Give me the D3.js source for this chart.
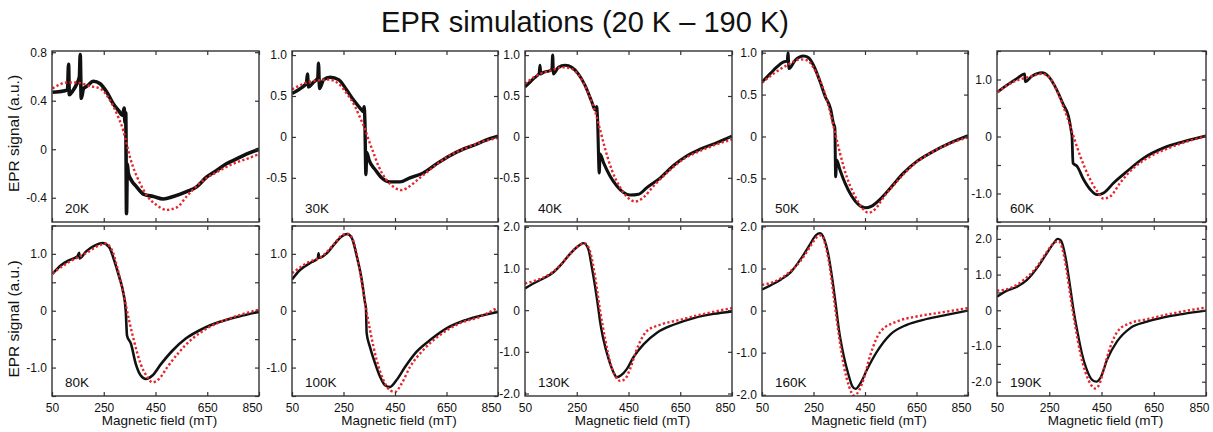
<!DOCTYPE html>
<html>
<head>
<script src="https://d3js.org/d3.v7.min.js"></script>
<style>
  body { margin: 0; background: #fff; }
  text { font-family: "Liberation Sans", Arial, sans-serif; fill: #111; }
</style>
</head>
<body>
<svg class="chart"></svg>
<script>
// --- data (field in mT, signal in a.u.) ---
var temps = ["20K", "30K", "40K", "50K", "60K", "80K", "100K", "130K", "160K", "190K"];
var fieldTicks = [50, 250, 450, 650, 850];

var exp20K = [[52,0.47],[95,0.48],[110,0.49],[114,0.70],[117,0.45],[130,0.48],[146,0.54],[156,0.60],[159,0.78],[163,0.42],[172,0.50],[185,0.52],[210,0.56],[236,0.54],[262,0.47],[288,0.37],[307,0.32],[322,0.28],[329,0.34],[332,0.22],[335,0.30],[338,-0.53],[341,-0.12],[345,-0.20],[358,-0.26],[377,-0.31],[403,-0.37],[442,-0.39],[480,-0.41],[519,-0.39],[570,-0.35],[609,-0.31],[647,-0.23],[686,-0.175],[724,-0.12],[763,-0.08],[801,-0.04],[850,0.0]];
var sim20K = [[52,0.50],[108,0.55],[146,0.55],[198,0.52],[236,0.50],[275,0.40],[307,0.26],[326,0.15],[339,0.04],[352,-0.07],[371,-0.19],[390,-0.28],[416,-0.38],[454,-0.46],[493,-0.50],[532,-0.48],[570,-0.39],[621,-0.28],[686,-0.19],[750,-0.12],[814,-0.07],[850,-0.04]];

var exp30K = [[50,0.53],[82,0.59],[106,0.66],[110,0.77],[114,0.61],[134,0.67],[150,0.72],[153,0.90],[157,0.59],[173,0.70],[198,0.73],[231,0.70],[263,0.57],[289,0.45],[315,0.35],[327,0.31],[330,0.37],[333,0.20],[337,-0.46],[340,-0.19],[350,-0.29],[373,-0.40],[398,-0.50],[431,-0.55],[469,-0.55],[508,-0.50],[560,-0.44],[611,-0.33],[663,-0.23],[715,-0.15],[766,-0.09],[818,-0.02],[850,0.01]];
var sim30K = [[50,0.58],[95,0.65],[147,0.69],[192,0.70],[231,0.65],[263,0.53],[295,0.37],[315,0.23],[334,0.09],[347,-0.03],[366,-0.19],[385,-0.35],[411,-0.50],[444,-0.61],[476,-0.65],[508,-0.60],[547,-0.50],[598,-0.37],[650,-0.25],[715,-0.15],[779,-0.07],[850,-0.01]];

var exp40K = [[50,0.61],[82,0.71],[105,0.78],[108,0.875],[111,0.77],[121,0.79],[147,0.81],[154,0.83],[157,1.0],[160,0.77],[179,0.85],[205,0.875],[231,0.85],[256,0.77],[282,0.63],[308,0.43],[321,0.33],[327,0.37],[330,0.25],[337,-0.44],[340,-0.21],[353,-0.31],[379,-0.48],[405,-0.60],[431,-0.68],[456,-0.71],[489,-0.70],[521,-0.62],[573,-0.50],[624,-0.35],[676,-0.23],[727,-0.15],[792,-0.07],[850,0.01]];
var sim40K = [[50,0.65],[95,0.75],[147,0.81],[198,0.85],[231,0.83],[263,0.73],[295,0.53],[321,0.31],[340,0.09],[360,-0.15],[385,-0.40],[418,-0.62],[450,-0.75],[476,-0.79],[508,-0.74],[547,-0.60],[598,-0.44],[663,-0.27],[727,-0.17],[792,-0.09],[850,-0.03]];

var exp50K = [[50,0.65],[82,0.75],[108,0.83],[134,0.89],[148,0.90],[151,1.0],[155,0.81],[179,0.91],[211,0.96],[231,0.94],[250,0.85],[276,0.65],[295,0.48],[317,0.32],[327,0.16],[333,0.10],[336,-0.48],[340,-0.28],[353,-0.40],[373,-0.56],[398,-0.71],[424,-0.81],[450,-0.85],[476,-0.83],[508,-0.75],[547,-0.62],[598,-0.44],[650,-0.30],[714,-0.18],[779,-0.08],[850,0.01]];
var sim50K = [[50,0.64],[95,0.75],[147,0.85],[198,0.92],[224,0.91],[256,0.79],[289,0.56],[314,0.30],[334,0.04],[353,-0.20],[379,-0.48],[411,-0.71],[444,-0.87],[463,-0.91],[489,-0.87],[521,-0.73],[573,-0.54],[637,-0.34],[714,-0.18],[792,-0.07],[850,-0.01]];

var exp60K = [[52,0.78],[88,0.90],[127,1.02],[156,1.10],[158,0.96],[184,1.06],[222,1.12],[248,1.05],[273,0.87],[305,0.55],[324,0.35],[334,0.10],[337,0.0],[341,-0.47],[356,-0.52],[382,-0.76],[407,-0.93],[433,-1.02],[458,-0.99],[497,-0.81],[548,-0.61],[611,-0.38],[688,-0.20],[764,-0.09],[850,0.01]];
var sim60K = [[52,0.78],[114,0.96],[178,1.05],[222,1.10],[254,1.02],[286,0.73],[318,0.35],[343,0.0],[369,-0.35],[401,-0.70],[433,-0.96],[458,-1.09],[484,-1.05],[522,-0.81],[573,-0.55],[637,-0.35],[714,-0.19],[790,-0.07],[850,0.0]];

var exp80K = [[52,0.65],[85,0.80],[117,0.89],[149,0.96],[155,1.02],[157,0.92],[181,1.04],[213,1.14],[245,1.19],[271,1.12],[290,0.89],[310,0.59],[325,0.33],[335,0.0],[340,-0.44],[355,-0.58],[374,-0.94],[393,-1.14],[413,-1.20],[438,-1.14],[471,-0.94],[516,-0.70],[567,-0.49],[631,-0.32],[696,-0.20],[773,-0.10],[850,-0.02]];
var sim80K = [[52,0.66],[117,0.86],[181,1.01],[233,1.15],[258,1.18],[284,1.04],[310,0.62],[329,0.24],[348,-0.17],[368,-0.55],[393,-0.94],[419,-1.17],[438,-1.26],[464,-1.20],[496,-0.99],[541,-0.73],[593,-0.49],[657,-0.29],[734,-0.14],[850,0.02]];

var exp100K = [[50,0.55],[82,0.72],[121,0.84],[150,0.92],[153,1.01],[156,0.93],[185,1.01],[218,1.19],[244,1.31],[265,1.35],[282,1.28],[302,0.95],[321,0.54],[334,0.13],[337,0.05],[340,-0.40],[353,-0.64],[373,-0.93],[392,-1.16],[411,-1.31],[431,-1.34],[456,-1.22],[489,-0.99],[534,-0.72],[585,-0.52],[650,-0.31],[727,-0.16],[850,-0.02]];
var sim100K = [[50,0.66],[108,0.84],[173,0.98],[211,1.16],[250,1.34],[269,1.35],[289,1.22],[315,0.66],[334,0.13],[353,-0.34],[379,-0.87],[405,-1.22],[431,-1.40],[450,-1.43],[476,-1.28],[508,-0.99],[560,-0.69],[624,-0.43],[702,-0.22],[779,-0.11],[850,0.06]];

var exp130K = [[50,0.52],[82,0.64],[121,0.76],[160,0.91],[192,1.11],[224,1.35],[256,1.54],[276,1.61],[295,1.46],[308,1.04],[321,0.56],[334,0.01],[340,-0.27],[353,-0.70],[373,-1.17],[392,-1.49],[405,-1.61],[420,-1.57],[444,-1.41],[469,-1.13],[508,-0.82],[560,-0.54],[624,-0.35],[702,-0.19],[779,-0.09],[850,-0.03]];
var sim130K = [[50,0.64],[95,0.72],[147,0.87],[185,1.07],[224,1.35],[263,1.57],[282,1.60],[299,1.46],[321,0.80],[340,0.0],[360,-0.70],[379,-1.25],[398,-1.57],[418,-1.70],[437,-1.65],[456,-1.41],[482,-0.94],[521,-0.50],[573,-0.35],[650,-0.23],[727,-0.11],[850,0.05]];

var exp160K = [[50,0.50],[86,0.61],[124,0.74],[163,0.92],[202,1.24],[234,1.55],[259,1.79],[276,1.84],[291,1.71],[307,1.35],[323,0.76],[336,0.17],[349,-0.46],[368,-1.09],[384,-1.48],[401,-1.80],[413,-1.86],[433,-1.72],[458,-1.40],[497,-0.97],[548,-0.57],[612,-0.34],[689,-0.20],[766,-0.10],[850,0.0]];
var sim160K = [[50,0.61],[99,0.69],[150,0.88],[202,1.20],[240,1.55],[266,1.76],[281,1.79],[298,1.51],[315,0.96],[330,0.25],[349,-0.61],[368,-1.32],[388,-1.80],[407,-2.02],[426,-1.91],[446,-1.60],[471,-1.05],[510,-0.50],[574,-0.26],[651,-0.14],[741,-0.05],[850,0.06]];

var exp190K = [[50,0.38],[88,0.55],[127,0.66],[165,0.85],[203,1.18],[241,1.60],[267,1.88],[282,2.0],[295,1.95],[312,1.50],[328,0.76],[343,0.01],[359,-0.64],[375,-1.21],[394,-1.67],[414,-1.95],[430,-2.0],[448,-1.86],[471,-1.39],[509,-0.88],[560,-0.50],[624,-0.32],[688,-0.20],[764,-0.10],[850,-0.01]];
var sim190K = [[50,0.55],[101,0.62],[152,0.85],[203,1.22],[241,1.64],[267,1.88],[286,1.93],[303,1.64],[318,1.04],[333,0.29],[350,-0.46],[369,-1.21],[388,-1.72],[410,-2.09],[426,-2.19],[443,-2.05],[458,-1.67],[484,-1.02],[516,-0.55],[560,-0.36],[624,-0.25],[714,-0.10],[850,0.08]];

var yTicksA = [-0.4, 0, 0.4, 0.8];
var yTicksB = [-0.5, 0, 0.5, 1.0];
var yTicksC = [-1.5, -1.0, -0.5, 0, 0.5, 1.0, 1.5];
var yTicksD = [-2.0, -1.0, 0, 1.0, 2.0];
var yTicksE = [-2.0, -1.5, -1.0, -0.5, 0, 0.5, 1.0, 1.5, 2.0];

var expData = [exp20K, exp30K, exp40K, exp50K, exp60K, exp80K, exp100K, exp130K, exp160K, exp190K];
var simData = [sim20K, sim30K, sim40K, sim50K, sim60K, sim80K, sim100K, sim130K, sim160K, sim190K];
var yDomains = [[-0.6, 0.81], [-1.04, 1.05], [-1.04, 1.05], [-1.02, 1.02], [-1.5, 1.5],
                [-1.5, 1.49], [-1.5, 1.49], [-2.06, 2.02], [-2.03, 2.01], [-2.4, 2.36]];
var yTickSets = [yTicksA, yTicksB, yTicksB, yTicksB, yTicksC, yTicksC, yTicksC, yTicksD, yTicksD, yTicksE];

// --- layout ---
var svgWidth = 1213, svgHeight = 432;
var colLeft = [52, 292, 525, 762, 997],
    colWidth = [207, 206, 207, 206, 209],
    rowTop = [51, 226],
    rowHeight = [171, 170];
// experimental trace gets thinner as the noise drops with temperature
var expWidth = [3.6, 3.4, 3.1, 3.0, 2.8, 2.6, 2.5, 2.4, 2.3, 2.3];

var svg = d3.select(".chart")
    .attr("width", svgWidth)
    .attr("height", svgHeight);

svg.append("text")
    .attr("x", 585).attr("y", 32)
    .attr("text-anchor", "middle")
    .style("font-size", "29px")
    .text("EPR simulations (20 K \u2013 190 K)");

temps.forEach(function (t, i) {
    var row = Math.floor(i / 5), col = i % 5;
    var w = colWidth[col], h = rowHeight[row];
    var g = svg.append("g")
        .attr("transform", "translate(" + colLeft[col] + "," + rowTop[row] + ")");

    var x = d3.scaleLinear().domain([50, 850]).range([0, w]);
    var y = d3.scaleLinear().domain(yDomains[i]).range([h, 0]);

    var minorHalf = (i >= 4 && i <= 6) || i === 9;
    var yFmt = function (v) {
        if (minorHalf && Math.abs(v % 1) > 0.01) return "";
        return v === 0 ? "0" : v.toFixed(1);
    };

    g.append("clipPath").attr("id", "clip" + i)
        .append("rect").attr("width", w).attr("height", h);

    var line = d3.line()
        .x(function (d) { return x(d[0]); })
        .y(function (d) { return y(d[1]); })
        .curve(d3.curveMonotoneX);

    g.append("path")
        .datum(expData[i])
        .attr("clip-path", "url(#clip" + i + ")")
        .attr("fill", "none")
        .attr("stroke", "#111")
        .attr("stroke-width", expWidth[i])
        .attr("stroke-linejoin", "round")
        .attr("d", line);

    g.append("path")
        .datum(simData[i])
        .attr("clip-path", "url(#clip" + i + ")")
        .attr("fill", "none")
        .attr("stroke", "#e4262c")
        .attr("stroke-width", 2.4)
        .attr("stroke-dasharray", "2.3,2.3")
        .attr("d", line);

    // axes, ticks pointing inward
    g.append("g")
        .call(d3.axisLeft(y).tickValues(yTickSets[i]).tickSize(-4).tickPadding(5).tickFormat(yFmt));
    g.append("g").attr("transform", "translate(" + w + ",0)")
        .call(d3.axisRight(y).tickValues(yTickSets[i]).tickSize(-4).tickFormat(""));
    var bottom = g.append("g").attr("transform", "translate(0," + h + ")")
        .call(d3.axisBottom(x).tickValues(fieldTicks).tickSize(-4).tickPadding(7)
            .tickFormat(row === 1 ? d3.format("d") : ""));
    g.append("g")
        .call(d3.axisTop(x).tickValues(fieldTicks).tickSize(-4).tickFormat(""));

    // last field label sits a bit left of the frame edge
    bottom.selectAll(".tick text")
        .filter(function (d) { return d === 850; })
        .attr("text-anchor", "end").attr("x", 3);

    g.selectAll(".domain").remove();
    g.selectAll(".tick line").attr("stroke", "#333").attr("stroke-width", 1.2);
    g.selectAll(".tick text").style("font-size", "12px")
        .style("font-family", "'Liberation Sans', Arial, sans-serif").attr("fill", "#111");

    g.append("rect")
        .attr("width", w).attr("height", h)
        .attr("fill", "none")
        .attr("stroke", "#333")
        .attr("stroke-width", 1.4);

    g.append("text")
        .attr("x", 13).attr("y", h - 9)
        .style("font-size", "13.5px")
        .text(t);

    if (col === 0) {
        svg.append("text")
            .attr("transform", "translate(19," + (rowTop[row] + h / 2 + (row ? 8 : -3)) + ") rotate(-90)")
            .attr("text-anchor", "middle")
            .style("font-size", "15.5px")
            .text("EPR signal (a.u.)");
    }
    if (row === 1) {
        svg.append("text")
            .attr("x", colLeft[col] + w / 2 + 4).attr("y", 425)
            .attr("text-anchor", "middle")
            .style("font-size", "13.5px")
            .text("Magnetic field (mT)");
    }
});
</script>
</body>
</html>
